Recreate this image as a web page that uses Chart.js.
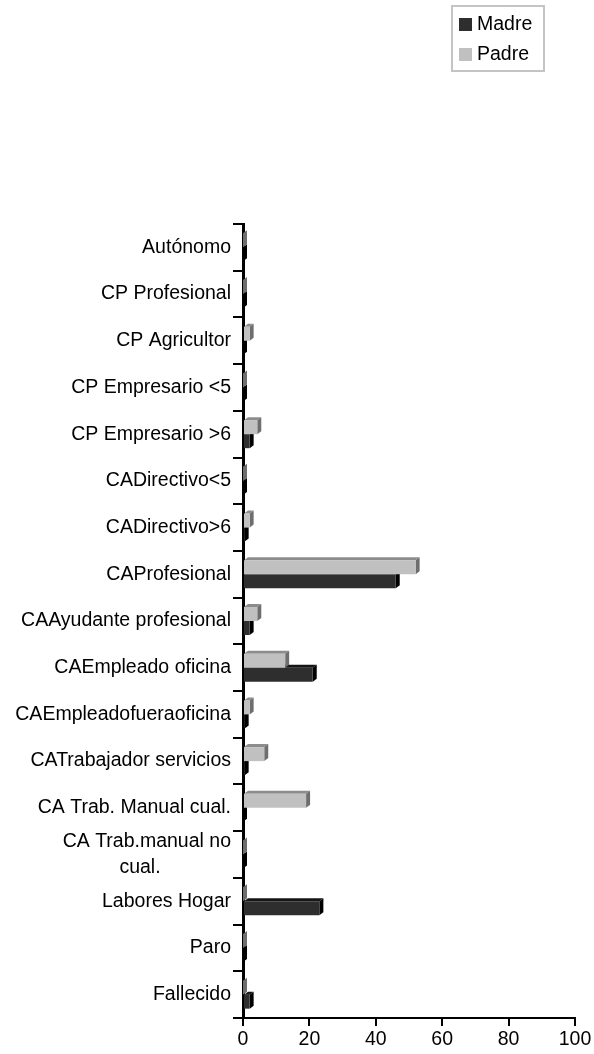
<!DOCTYPE html>
<html>
<head>
<meta charset="utf-8">
<script src="https://cdn.jsdelivr.net/npm/chart.js@4"></script>
<style>
  html, body { margin: 0; padding: 0; background: #fff; }
  #chart { display: block; }
</style>
</head>
<body>
<canvas id="chart" width="594" height="1054"></canvas>
<script>
const categories = [
  "Autónomo", "CP Profesional", "CP Agricultor", "CP Empresario <5", "CP Empresario >6",
  "CADirectivo<5", "CADirectivo>6", "CAProfesional", "CAAyudante profesional",
  "CAEmpleado oficina", "CAEmpleadofueraoficina", "CATrabajador servicios",
  "CA Trab. Manual cual.", ["CA Trab.manual no", "cual.             "],
  "Labores Hogar", "Paro", "Fallecido"
];
const madre = [0, 0, 0, 0, 2, 0, 0.5, 46, 2, 21, 0.5, 0.5, 0, 0, 23, 0, 2];
const padre = [0, 0, 2, 0, 4.3, 0, 2, 52, 4.3, 12.7, 2, 6.4, 19, 0, 0, 0, 0];
const xTicks = [0, 20, 40, 60, 80, 100];

const FONT = { family: "'Liberation Sans', Arial, sans-serif", size: 19.5 };

// top and side faces of each bar, drawn before the front faces
const depthPlugin = {
  id: "depth",
  beforeDatasetsDraw(chart) {
    const ctx = chart.ctx;
    const dx = 4, dy = 3;
    for (let i = chart.data.datasets.length - 1; i >= 0; i--) {
      const ds = chart.data.datasets[i];
      const meta = chart.getDatasetMeta(i);
      meta.data.forEach(el => {
        const p = el.getProps(["x", "y", "base", "height"], true);
        const left = Math.min(p.x, p.base), right = Math.max(p.x, p.base);
        const top = p.y - p.height / 2, bottom = p.y + p.height / 2;
        ctx.save();
        ctx.fillStyle = ds.topColor;
        ctx.beginPath();
        ctx.moveTo(left, top);
        ctx.lineTo(left + dx, top - dy);
        ctx.lineTo(right + dx, top - dy);
        ctx.lineTo(right, top);
        ctx.closePath();
        ctx.fill();
        ctx.fillStyle = ds.sideColor;
        ctx.beginPath();
        ctx.moveTo(right, top);
        ctx.lineTo(right + dx, top - dy);
        ctx.lineTo(right + dx, bottom - dy);
        ctx.lineTo(right, bottom);
        ctx.closePath();
        ctx.fill();
        ctx.restore();
      });
    }
  }
};

// boxed legend in the top right corner
const boxLegend = {
  id: "boxLegend",
  afterDraw(chart) {
    const ctx = chart.ctx;
    ctx.save();
    ctx.strokeStyle = "#c4c4c4";
    ctx.lineWidth = 2;
    ctx.strokeRect(452, 6, 92, 65);
    const order = [1, 0];
    ctx.font = `${FONT.size}px ${FONT.family}`;
    ctx.textBaseline = "middle";
    ctx.textAlign = "left";
    order.forEach((idx, k) => {
      const ds = chart.data.datasets[idx];
      const cy = 24 + k * 30;
      ctx.fillStyle = ds.backgroundColor;
      ctx.fillRect(459, cy - 6, 13, 13);
      ctx.fillStyle = "#000";
      ctx.fillText(ds.label, 477, cy + 1);
    });
    ctx.restore();
  }
};

new Chart(document.getElementById("chart"), {
  type: "bar",
  data: {
    labels: categories,
    datasets: [
      { label: "Padre", data: padre, backgroundColor: "#c0c0c0", topColor: "#8c8c8c", sideColor: "#6e6e6e" },
      { label: "Madre", data: madre, backgroundColor: "#2e2e2e", topColor: "#151515", sideColor: "#000000" }
    ]
  },
  options: {
    indexAxis: "y",
    responsive: false,
    animation: false,
    devicePixelRatio: 1,
    categoryPercentage: 0.6,
    barPercentage: 1,
    layout: { padding: { top: 224, right: 19, left: 0, bottom: 0 } },
    plugins: { legend: { display: false }, tooltip: { enabled: false } },
    scales: {
      x: {
        min: 0, max: 100,
        afterBuildTicks: s => { s.ticks = xTicks.map(v => ({ value: v })); },
        ticks: { color: "#000", font: FONT, padding: 2, maxRotation: 0 },
        grid: { drawOnChartArea: false, color: "#000", lineWidth: 2, tickLength: 8 },
        border: { color: "#000", width: 2 },
        afterFit: s => { s.height = 36; }
      },
      y: {
        ticks: { color: "#000", font: { ...FONT, lineHeight: 1.3 }, padding: 2, autoSkip: false },
        grid: { offset: true, drawOnChartArea: false, color: "#000", lineWidth: 2, tickLength: 10 },
        border: { color: "#000", width: 3 },
        afterFit: s => { s.width = 243; }
      }
    }
  },
  plugins: [depthPlugin, boxLegend]
});
</script>
</body>
</html>
